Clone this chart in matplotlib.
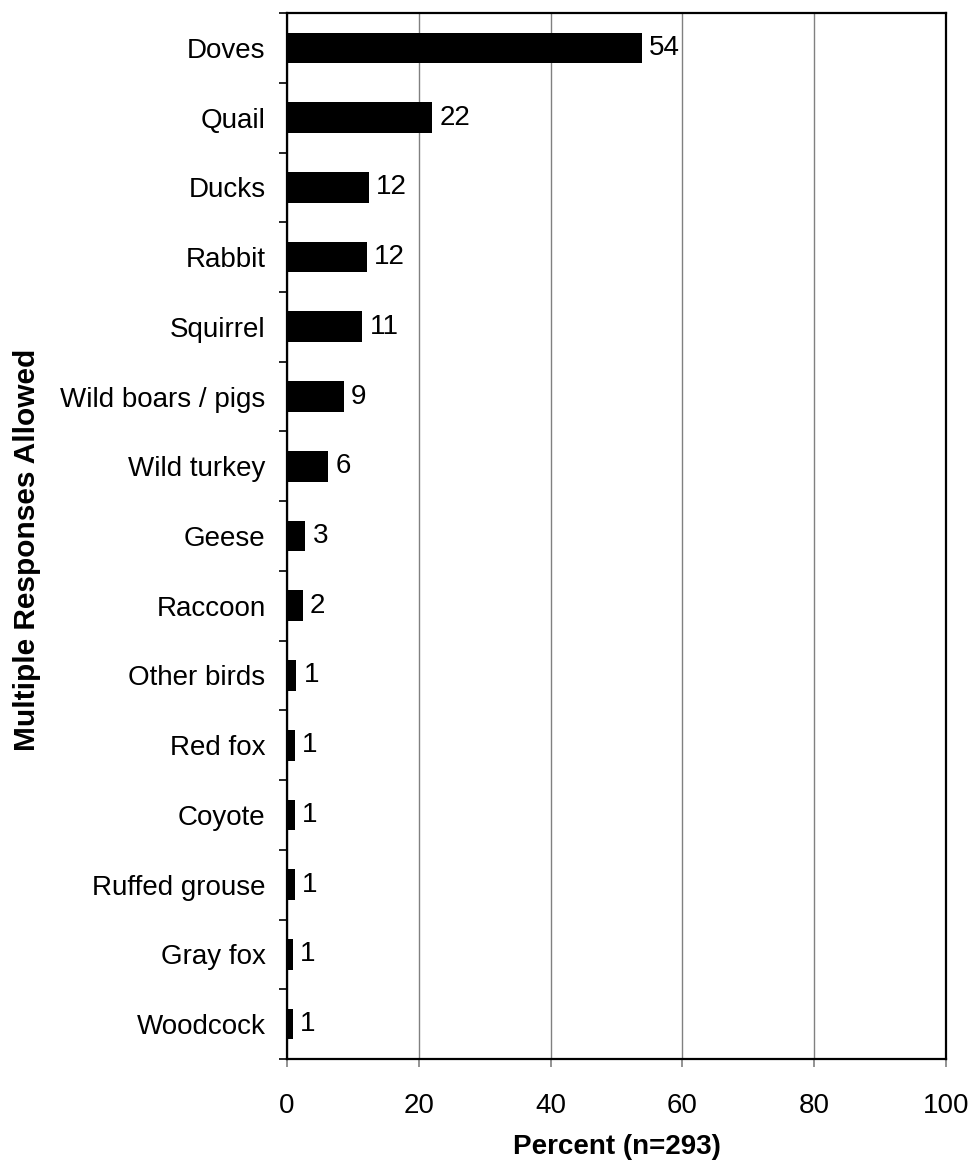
import numpy as np
import matplotlib.pyplot as plt
from matplotlib.ticker import FixedLocator

plt.rcParams['font.family'] = ['Liberation Sans', 'DejaVu Sans']

species = ['Doves', 'Quail', 'Ducks', 'Rabbit', 'Squirrel', 'Wild boars / pigs',
           'Wild turkey', 'Geese', 'Raccoon', 'Other birds', 'Red fox', 'Coyote',
           'Ruffed grouse', 'Gray fox', 'Woodcock']
percent = [53.8, 22.0, 12.4, 12.1, 11.4, 8.6, 6.2, 2.8, 2.4, 1.4, 1.2, 1.2, 1.2, 0.9, 0.9]
xticks = [0, 20, 40, 60, 80, 100]

fig = plt.figure(figsize=(9.72, 11.65), dpi=100)
ax = fig.add_axes([0.2953, 0.0910, 0.678, 0.8978])

y = np.arange(len(species))
ax.barh(y, percent, height=0.44, color='black', zorder=3)
for yi, v in zip(y, percent):
    ax.text(v + 1.1, yi, f'{v:.0f}', va='center', ha='left', fontsize=20, zorder=4)

ax.set_xlim(0, 100)
ax.set_ylim(len(species) - 0.5, -0.5)

ax.set_yticks(y)
ax.set_yticklabels(species, fontsize=20)
ax.tick_params(axis='y', which='major', length=0, pad=15.5)
# tick marks sit between the categories
ax.yaxis.set_minor_locator(FixedLocator(np.arange(len(species) + 1) - 0.5))
ax.tick_params(axis='y', which='minor', length=6, width=1.2, color='black')

ax.set_xticks(xticks)
ax.tick_params(axis='x', labelsize=20, length=6, width=1.2, color='#808080', pad=18.5)
ax.xaxis.grid(True, color='#808080', linewidth=1, zorder=0)

for s in ax.spines.values():
    s.set_linewidth(1.6)
    s.set_color('black')

ax.set_xlabel('Percent (n=293)', fontsize=20, fontweight='bold', labelpad=10.5)
ax.set_ylabel('Multiple Responses Allowed', fontsize=21.5, fontweight='bold')
ax.yaxis.set_label_coords(-0.373, 0.487)

fig.savefig('out.png', dpi=100)
